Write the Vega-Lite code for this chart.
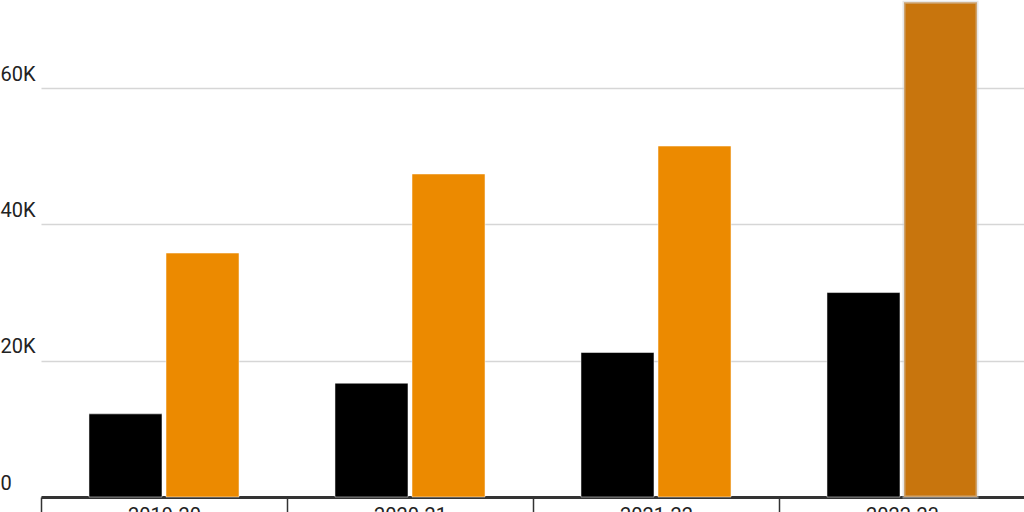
{
  "$schema": "https://vega.github.io/schema/vega-lite/v6.json",
  "width": 1024,
  "height": 497,
  "autosize": "none",
  "padding": {"left": 0, "top": 0, "right": 0, "bottom": 15},
  "background": "white",
  "data": {
    "values": [
      {"year": "2019-20", "series": "Series A", "count": 12200},
      {"year": "2019-20", "series": "Series B", "count": 35800},
      {"year": "2020-21", "series": "Series A", "count": 16700},
      {"year": "2020-21", "series": "Series B", "count": 47400},
      {"year": "2021-22", "series": "Series A", "count": 21200},
      {"year": "2021-22", "series": "Series B", "count": 51500},
      {"year": "2022-23", "series": "Series A", "count": 30000},
      {"year": "2022-23", "series": "Series B", "count": 72600}
    ]
  },
  "mark": {
    "type": "bar",
    "stroke": "white",
    "strokeOpacity": 0.5,
    "strokeWidth": 1
  },
  "encoding": {
    "x": {
      "field": "year",
      "type": "nominal",
      "title": null,
      "scale": {"range": [41, 1025], "paddingInner": 0, "paddingOuter": 0},
      "axis": {
        "labelAngle": 0,
        "labelFontSize": 20,
        "labelColor": "#222",
        "labelPadding": -8,
        "tickBand": "extent",
        "tickSize": 16,
        "tickColor": "#333",
        "tickWidth": 1.5,
        "domainColor": "#333",
        "domainWidth": 3,
        "grid": false
      }
    },
    "xOffset": {
      "field": "series",
      "type": "nominal",
      "scale": {"paddingInner": 0.052, "paddingOuter": 0.623}
    },
    "y": {
      "field": "count",
      "type": "quantitative",
      "title": null,
      "scale": {"domain": [0, 72930], "nice": false},
      "axis": {
        "values": [0, 20000, 40000, 60000],
        "labelExpr": "datum.value == 0 ? '0' : (datum.value / 1000) + 'K'",
        "labelAlign": "left",
        "labelBaseline": "bottom",
        "labelOffset": -4,
        "labelPadding": 0,
        "labelFontSize": 20,
        "labelColor": "#222",
        "ticks": false,
        "tickSize": 0,
        "domain": false,
        "gridColor": "#d6d6d6",
        "gridWidth": 1.5
      }
    },
    "color": {
      "condition": {
        "test": "datum.year == '2022-23' && datum.series == 'Series B'",
        "value": "#C8750D"
      },
      "field": "series",
      "type": "nominal",
      "legend": null,
      "scale": {"range": ["#000000", "#EC8A00"]}
    },
    "stroke": {
      "condition": {
        "test": "datum.year == '2022-23' && datum.series == 'Series B'",
        "value": "#d2d2d2"
      },
      "value": "white"
    },
    "strokeWidth": {
      "condition": {
        "test": "datum.year == '2022-23' && datum.series == 'Series B'",
        "value": 3
      },
      "value": 1
    }
  },
  "config": {
    "font": "Roboto",
    "view": {"stroke": null}
  }
}
